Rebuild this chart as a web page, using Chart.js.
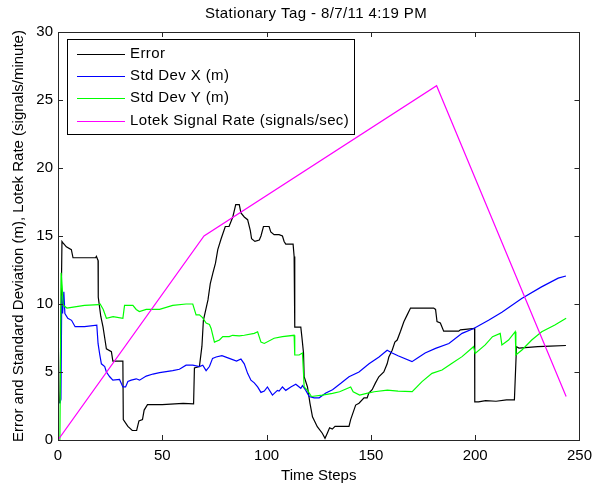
<!DOCTYPE html>
<html>
<head>
<meta charset="utf-8">
<script src="https://cdn.jsdelivr.net/npm/chart.js@4/dist/chart.umd.min.js"></script>
<style>
  body { margin: 0; background: #fff; }
  #wrap { width: 599px; height: 483px; }
</style>
</head>
<body>
<div id="wrap"><canvas id="chart" width="599" height="483"></canvas></div>
<script>
// Данные графика (шаг времени, значение)
const chartTitle = 'Stationary Tag - 8/7/11 4:19 PM';
const seriesLabels = ['Error', 'Std Dev X (m)', 'Std Dev Y (m)', 'Lotek Signal Rate (signals/sec)'];
const seriesColors = ['#000000', '#0000ff', '#00ff00', '#ff00ff'];
const xTicks = [0, 50, 100, 150, 200, 250];
const yTicks = [0, 5, 10, 15, 20, 25, 30];

const errorData = [
  [0.8,2.7],[1,3.6],[1.9,14.6],[2.4,14.5],[4,14.2],[6.4,14.0],[7.2,13.4],[18,13.4],[18.4,13.5],[19.2,13.2],
  [19.3,10.5],[20.5,9.1],[21.6,8.3],[22.4,7.5],[23.2,6.7],[25.6,6.5],[26.3,5.8],[31.1,5.8],[31.3,1.5],
  [33.5,1.0],[35.6,0.7],[37.7,0.7],[38.8,1.4],[40.5,1.5],[41.3,2.2],[42.9,2.6],[50,2.6],[60,2.7],[65,2.65],
  [65.4,5.3],[67.8,5.4],[69,6.9],[69.7,8.8],[71.9,10.3],[73,11.5],[74.3,12.3],[75.5,13.0],[76.6,14.0],
  [78.2,14.8],[80.2,15.7],[82,15.7],[83.8,16.4],[85.2,17.3],[86.9,17.3],[87.7,16.7],[89.3,16.4],[90.9,16.2],
  [92.2,15.4],[92.8,14.8],[94.4,14.6],[96.5,14.7],[97.3,15.0],[98.5,15.7],[101.2,15.7],[102,15.3],
  [103.6,15.1],[106,15.1],[107.6,15.0],[108.4,14.6],[109.2,14.4],[112.7,14.4],[113.2,13.5],[113.5,8.3],
  [116.4,8.3],[116.9,7.6],[117.7,6.4],[118,4.65],[119.6,3.9],[120.8,2.7],[122,1.7],[124.3,0.98],[126.7,0.5],
  [128,0.12],[129.1,0.5],[130.2,0.9],[131.5,0.8],[132.8,1.0],[139.5,1.0],[140.3,1.5],[142.7,2.57],[144.3,2.7],
  [146.7,3.1],[148.2,3.1],[149,3.45],[150.6,3.7],[152.2,4.2],[153.8,4.65],[156.2,5.0],[157.8,5.6],[158.6,6.1],
  [160.2,6.6],[161.5,7.2],[162.6,7.35],[164.2,8.0],[165.8,8.7],[167.4,9.2],[169,9.7],[180.1,9.7],[181,9.6],
  [181.7,8.7],[183.3,8.6],[184.9,8.0],[192.1,8.0],[192.9,8.1],[199.7,8.2],[199.8,2.8],[201.6,2.8],[205,2.9],
  [210,2.85],[215,2.95],[218.8,2.95],[219.8,6.86],[221,6.76],[230,6.86],[236,6.9],[243.5,6.95]
];

const stdXData = [
  [0.9,2.7],[1.4,3.0],[1.8,10.6],[2.2,9.3],[2.8,10.9],[3.3,9.3],[4.7,8.95],[6.5,8.8],[8.2,8.33],[12.7,8.33],
  [18.6,8.45],[19.2,7.1],[20,6.3],[20.8,5.6],[22.4,5.4],[23.2,5.0],[24.8,4.65],[26.3,4.4],[29.5,4.45],
  [31.1,3.9],[32.4,3.9],[33.5,4.3],[35.1,4.4],[37.5,4.5],[39.1,4.4],[42.3,4.7],[45.5,4.85],[48.7,4.95],
  [55,5.1],[58.2,5.2],[61.4,5.5],[64.6,5.5],[67.8,5.4],[69.4,5.5],[71,5.1],[72.6,5.4],[74.1,6.0],[75.8,6.1],
  [78.6,6.2],[82.1,6.0],[85.6,5.8],[87.7,5.95],[89.3,5.6],[90.9,4.9],[92.5,4.4],[94.1,4.2],[95.7,3.9],
  [97.3,3.5],[98.9,3.6],[100.4,3.9],[102.8,3.3],[105.2,3.65],[106,3.6],[107.6,3.9],[109.2,3.65],[111.6,3.9],
  [114,4.1],[116.4,3.8],[117.2,4.0],[118.8,3.65],[120.4,3.2],[122.8,3.1],[125.2,3.1],[128.4,3.45],[131.6,3.7],
  [135.6,4.17],[139.5,4.65],[144.3,5.0],[149.1,5.6],[153.9,6.1],[157.8,6.6],[160.2,6.4],[163,6.2],[169.7,5.76],
  [172,6.0],[176,6.4],[181,6.74],[187.4,7.1],[193.7,7.84],[199.3,8.2],[206.4,8.8],[212.8,9.4],[222.3,10.4],
  [231.8,11.26],[239.8,11.9],[243.5,12.06]
];

const stdYData = [
  [0.9,0],[1.5,12.3],[2.0,11.3],[2.5,9.9],[4.3,9.7],[6.5,9.75],[12.7,9.9],[19.5,9.95],[20.2,10.0],[21.7,9.6],
  [23.2,8.95],[26.4,9.07],[31.1,8.95],[31.9,9.9],[35.9,9.9],[37.5,9.6],[39,9.45],[42.3,9.6],[48.7,9.6],
  [55,9.9],[61.4,10.0],[64.6,10.0],[66.2,9.2],[67.8,9.2],[69.3,9.0],[71,8.6],[72.6,8.5],[73.4,8.2],[75,7.2],
  [77.4,7.35],[79,7.6],[82.1,7.6],[83.7,7.7],[86.9,7.65],[89.3,7.7],[94.1,7.84],[95.7,7.96],[97.3,7.2],
  [98.9,7.1],[103.6,7.48],[107.6,7.6],[113.2,7.7],[113.5,6.25],[115.6,6.25],[117.2,6.4],[117.7,4.9],
  [118,3.9],[119.6,3.65],[121.5,3.2],[126.7,3.3],[131.6,3.43],[135,3.55],[140.3,3.9],[141.5,3.55],
  [144.6,3.3],[148,3.43],[151.6,3.55],[157.9,3.67],[163,3.6],[169.8,3.55],[174.5,4.29],[179.3,4.9],
  [184.1,5.15],[188.9,5.64],[193.7,6.13],[199.2,6.86],[200,6.37],[204.8,6.99],[208.3,7.6],[212,7.84],
  [212.8,6.99],[216,7.35],[219.2,7.96],[219.5,6.25],[222.4,6.62],[227.1,7.35],[231.9,7.96],[238.2,8.45],
  [243.6,8.95]
];

const lotekData = [[0,0],[70,15],[181.5,26.05],[243.6,3.2]];

const allSeries = [errorData, stdXData, stdYData, lotekData];
const fontFamily = '"Liberation Sans", Arial, sans-serif';

// Оси, засечки внутрь, заголовок и легенда в стиле MATLAB
const matlabPlugin = {
  id: 'matlabPlugin',
  afterDraw(chart) {
    const ctx = chart.ctx;
    const a = chart.chartArea;
    const sx = chart.scales.x;
    const sy = chart.scales.y;
    ctx.save();
    ctx.strokeStyle = '#262626';
    ctx.lineWidth = 1;
    ctx.beginPath();
    xTicks.forEach(v => {
      const px = Math.round(sx.getPixelForValue(v)) + 0.5;
      ctx.moveTo(px, a.bottom); ctx.lineTo(px, a.bottom - 5);
      ctx.moveTo(px, a.top); ctx.lineTo(px, a.top + 5);
    });
    yTicks.forEach(v => {
      const py = Math.round(sy.getPixelForValue(v)) + 0.5;
      ctx.moveTo(a.left, py); ctx.lineTo(a.left + 5, py);
      ctx.moveTo(a.right, py); ctx.lineTo(a.right - 5, py);
    });
    ctx.stroke();
    ctx.strokeRect(Math.round(a.left) + 0.5, Math.round(a.top) + 0.5, Math.round(a.right - a.left), Math.round(a.bottom - a.top));

    // заголовок
    ctx.fillStyle = '#000';
    ctx.font = '15px ' + fontFamily;
    ctx.letterSpacing = '0.4px';
    ctx.textAlign = 'center';
    ctx.textBaseline = 'middle';
    ctx.fillText(chartTitle, 316, 14);

    // легенда
    const lx = 67, ly = 39, lw = 287, lh = 95;
    ctx.fillStyle = '#fff';
    ctx.fillRect(lx, ly, lw, lh);
    ctx.strokeStyle = '#000';
    ctx.strokeRect(lx + 0.5, ly + 0.5, lw, lh);
    ctx.textAlign = 'left';
    seriesLabels.forEach((label, i) => {
      const y = 53.5 + i * 22.4;
      ctx.strokeStyle = seriesColors[i];
      ctx.lineWidth = 1.2;
      ctx.beginPath();
      ctx.moveTo(77, Math.round(y) + 0.5);
      ctx.lineTo(125, Math.round(y) + 0.5);
      ctx.stroke();
      ctx.fillStyle = '#000';
      ctx.fillText(label, 130, y);
    });
    ctx.restore();
  }
};

const ctx = document.getElementById('chart').getContext('2d');
const chart = new Chart(ctx, {
  type: 'scatter',
  data: {
    datasets: allSeries.map((s, i) => ({
      label: seriesLabels[i],
      data: s.map(p => ({ x: p[0], y: p[1] })),
      showLine: true,
      borderColor: seriesColors[i],
      backgroundColor: seriesColors[i],
      borderWidth: 1.2,
      pointRadius: 0,
      tension: 0,
      order: 4 - i
    }))
  },
  options: {
    responsive: false,
    animation: false,
    layout: { padding: { top: 32, right: 18, left: 0, bottom: 0 } },
    plugins: {
      legend: { display: false },
      title: { display: false },
      tooltip: { enabled: false }
    },
    scales: {
      x: {
        type: 'linear',
        min: 0,
        max: 250,
        afterFit: s => { s.height = 43; },
        afterBuildTicks: s => { s.ticks = xTicks.map(v => ({ value: v })); },
        grid: { display: false, drawTicks: false },
        border: { display: false },
        ticks: { color: '#000', padding: 7, font: { family: fontFamily, size: 15 } },
        title: {
          display: true,
          text: 'Time Steps',
          color: '#000',
          padding: { top: 0, bottom: 0 },
          font: { family: fontFamily, size: 15, lineHeight: 1 }
        }
      },
      y: {
        type: 'linear',
        min: 0,
        max: 30,
        afterFit: s => { s.width = 58; },
        afterBuildTicks: s => { s.ticks = yTicks.map(v => ({ value: v })); },
        grid: { display: false, drawTicks: false },
        border: { display: false },
        ticks: { color: '#000', padding: 5, font: { family: fontFamily, size: 15 } },
        title: {
          display: true,
          text: 'Error and Standard Deviation (m), Lotek Rate (signals/minute)',
          color: '#000',
          padding: { top: 11, bottom: 0 },
          font: { family: fontFamily, size: 15, lineHeight: 1 }
        }
      }
    }
  },
  plugins: [matlabPlugin]
});
</script>
</body>
</html>
